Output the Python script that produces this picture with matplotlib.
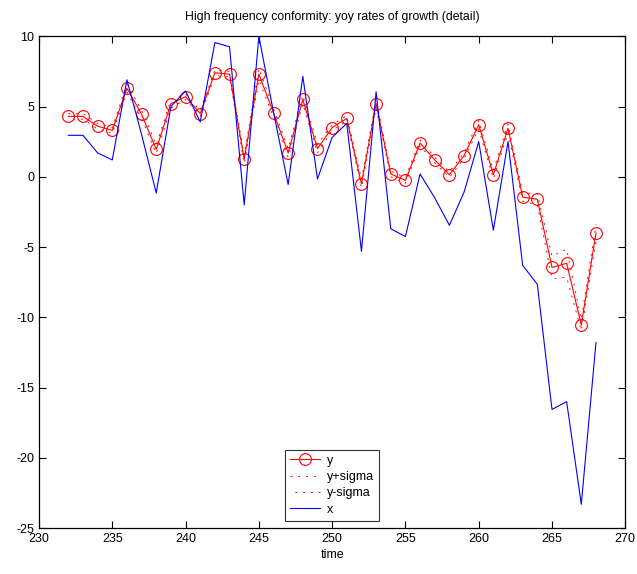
import matplotlib
matplotlib.use("Agg")
import matplotlib.pyplot as plt
import numpy as np

plt.rcParams['font.family'] = ['Liberation Sans', 'DejaVu Sans']
plt.rcParams['axes.unicode_minus'] = False

time = list(range(232, 269))
y = [4.3, 4.3, 3.6, 3.3, 6.3, 4.45, 1.95, 5.2, 5.7, 4.5,
     7.4, 7.3, 1.25, 7.3, 4.55, 1.7, 5.5, 2.0, 3.5, 4.15,
     -0.5, 5.2, 0.2, -0.25, 2.4, 1.2, 0.15, 1.5, 3.7, 0.15,
     3.45, -1.45, -1.6, -6.45, -6.15, -10.55, -4.0]
sigma = [0.2, 0.2, 0.2, 0.2, 0.3, 0.3, 0.3, 0.3, 0.2, 0.2,
         0.2, 0.2, 0.3, 0.4, 0.3, 0.3, 0.3, 0.3, 0.2, 0.2,
         0.3, 0.3, 0.2, 0.2, 0.2, 0.2, 0.2, 0.2, 0.3, 0.3,
         0.3, 0.3, 0.4, 0.8, 1.0, 0.4, 0.6]
x = [2.95, 2.95, 1.7, 1.2, 6.9, 3.0, -1.15, 5.0, 6.1, 3.9,
     9.55, 9.25, -2.0, 10.0, 4.6, -0.55, 7.15, -0.15, 2.8, 3.8,
     -5.3, 6.05, -3.7, -4.25, 0.2, -1.5, -3.45, -1.1, 2.5, -3.8,
     2.5, -6.3, -7.65, -16.55, -16.0, -23.3, -11.8]

y_arr = np.array(y)
s_arr = np.array(sigma)

fig = plt.figure(figsize=(6.37, 5.74), dpi=100)
ax = fig.add_axes([0.0612, 0.0798, 0.9204, 0.8571])

ax.plot(time, y, color='red', lw=0.8, marker='o', markersize=8.5,
        markerfacecolor='none', markeredgewidth=0.8, label='y')
ax.plot(time, y_arr + s_arr, color='red', lw=0.7, linestyle=(0, (2, 6)),
        label='y+sigma')
ax.plot(time, y_arr - s_arr, color='red', lw=0.7, linestyle=(3, (2, 6)),
        label='y-sigma')
ax.plot(time, x, color='blue', lw=0.8, label='x')

ax.set_xlim(230, 270)
ax.set_ylim(-25, 10)
ax.set_xticks(np.arange(230, 271, 5))
ax.set_yticks(np.arange(-25, 11, 5))
ax.tick_params(direction='in', length=5, width=0.8, top=True, right=True,
               labelsize=9)
for sp in ax.spines.values():
    sp.set_linewidth(0.9)

ax.set_title('High frequency conformity: yoy rates of growth (detail)',
             fontsize=8.8, pad=12)
ax.set_xlabel('time', fontsize=9, labelpad=3)

leg = ax.legend(loc='lower center', bbox_to_anchor=(0.5, 0.015), fontsize=9,
                frameon=True, fancybox=False, edgecolor='black',
                handlelength=2.4, borderpad=0.4, labelspacing=0.35,
                handletextpad=0.6, borderaxespad=0.0)
leg.get_frame().set_linewidth(0.8)

fig.savefig('out.png', dpi=100)
